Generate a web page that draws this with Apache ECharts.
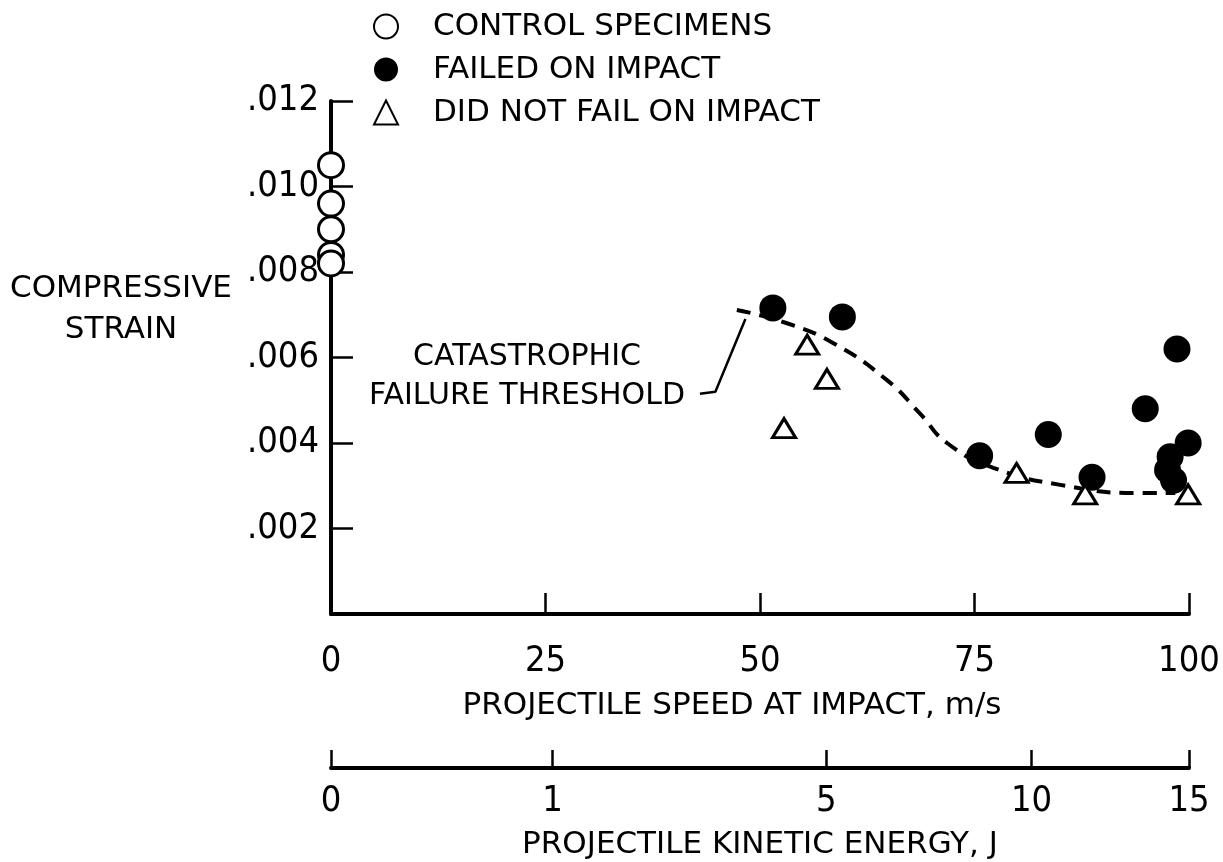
<!DOCTYPE html>
<html>
<head>
<meta charset="utf-8">
<script src="https://cdn.jsdelivr.net/npm/echarts@6/dist/echarts.min.js"></script>
<style>
  html, body { margin: 0; padding: 0; background: #ffffff; }
  #chart { width: 1223px; height: 862px; }
</style>
</head>
<body>
<div id="chart"></div>
<script>
// Axis ticks
const speedTicks = [0, 25, 50, 75, 100];          // m/s
const energyTicks = [0, 1, 5, 10, 15];            // J
const energyAtMaxSpeed = 15;                       // J at 100 m/s (KE grows with speed squared)
const strainMax = 0.012;
const strainStep = 0.002;

// Control specimens (no impact)
const controlSpeed  = [0, 0, 0, 0, 0];
const controlStrain = [0.0105, 0.0096, 0.0090, 0.0084, 0.0082];

// Specimens that failed on impact
const failedSpeed  = [51.5, 59.6, 75.6, 83.6, 88.7, 94.9, 98.6, 99.9, 97.8, 97.5, 98.2];
const failedStrain = [0.00716, 0.00695, 0.0037, 0.0042, 0.0032, 0.0048, 0.0062, 0.0040, 0.00368, 0.00337, 0.00313];

// Specimens that did not fail on impact
const survivedSpeed  = [55.5, 57.8, 52.8, 79.9, 87.9, 99.9];
const survivedStrain = [0.0063, 0.0055, 0.00435, 0.0033, 0.0028, 0.0028];

// Catastrophic failure threshold curve
const thresholdSpeed  = [47.3, 52.7, 58.5, 64.8, 68.6, 71.8, 77.2, 85.0, 94.3, 98.4];
const thresholdStrain = [0.00711, 0.00683, 0.00634, 0.00547, 0.00470, 0.00400, 0.00342, 0.00302, 0.00283, 0.00283];

// Leader line from the threshold label to the curve
const leaderSpeed  = [48.3, 44.8, 43.0];
const leaderStrain = [0.0069, 0.0052, 0.00515];

const zip = (xs, ys) => xs.map((x, i) => [x, ys[i]]);
const speedToEnergyPos = e => 100 * Math.sqrt(e / energyAtMaxSpeed);
const energyPositions = energyTicks.map(speedToEnergyPos);

const INK = '#000000';
const NUM_FONT = 'DejaVu Sans Condensed';
const TXT_FONT = 'DejaVu Sans';

const chart = echarts.init(document.getElementById('chart'), null, { renderer: 'canvas' });

chart.setOption({
  backgroundColor: '#ffffff',
  animation: false,
  legend: {
    orient: 'vertical',
    left: 368,
    top: 6,
    itemWidth: 24,
    itemHeight: 24,
    itemGap: 12,
    selectedMode: false,
    data: ['CONTROL SPECIMENS', 'FAILED ON IMPACT', 'DID NOT FAIL ON IMPACT'],
    textStyle: { color: INK, fontSize: 31, fontFamily: TXT_FONT, padding: [0, 0, 0, 30] }
  },
  grid: [
    { left: 331, top: 101, width: 858, height: 513, outerBoundsMode: 'none' },
    { left: 331, top: 707, width: 858, height: 61, outerBoundsMode: 'none' }
  ],
  xAxis: [
    {
      gridIndex: 0,
      type: 'value',
      min: speedTicks[0],
      max: speedTicks[speedTicks.length - 1],
      interval: 25,
      name: 'PROJECTILE SPEED AT IMPACT, m/s',
      nameLocation: 'middle',
      nameGap: 76,
      nameTextStyle: { color: INK, fontSize: 31, fontFamily: TXT_FONT, padding: [0, 56, 0, 0] },
      axisLine: { onZero: false, lineStyle: { color: INK, width: 4 } },
      axisTick: { inside: true, length: 21, lineStyle: { color: INK, width: 2.5 } },
      axisLabel: { color: INK, fontSize: 36, fontFamily: NUM_FONT, margin: 30 },
      splitLine: { show: false }
    },
    {
      gridIndex: 1,
      type: 'value',
      min: 0,
      max: 100,
      name: 'PROJECTILE KINETIC ENERGY, J',
      nameLocation: 'middle',
      nameGap: 61,
      nameTextStyle: { color: INK, fontSize: 31, fontFamily: TXT_FONT },
      axisLine: { onZero: false, lineStyle: { color: INK, width: 4 } },
      axisTick: { inside: true, length: 18, customValues: energyPositions, lineStyle: { color: INK, width: 2.5 } },
      axisLabel: {
        color: INK, fontSize: 36, fontFamily: NUM_FONT, margin: 16,
        customValues: energyPositions,
        formatter: v => String(Math.round(energyAtMaxSpeed * Math.pow(v / 100, 2)))
      },
      splitLine: { show: false }
    }
  ],
  yAxis: [
    {
      gridIndex: 0,
      type: 'value',
      min: 0,
      max: strainMax,
      interval: strainStep,
      axisLine: { show: true, onZero: false, lineStyle: { color: INK, width: 4 } },
      axisTick: { show: true, inside: true, length: 22, lineStyle: { color: INK, width: 2.5 } },
      axisLabel: {
        color: INK, fontSize: 36, fontFamily: NUM_FONT, margin: 12,
        formatter: v => (v === 0 ? '' : v.toFixed(3).replace(/^0/, ''))
      },
      splitLine: { show: false }
    },
    { gridIndex: 1, type: 'value', show: false, min: 0, max: 1 }
  ],
  graphic: [
    {
      type: 'text',
      style: {
        text: 'COMPRESSIVE\nSTRAIN', x: 121, y: 268, align: 'center', verticalAlign: 'top',
        fill: INK, fontSize: 31, fontFamily: TXT_FONT, lineHeight: 41
      }
    },
    {
      type: 'text',
      style: {
        text: 'CATASTROPHIC\nFAILURE THRESHOLD', x: 527, y: 338, align: 'center', verticalAlign: 'top',
        fill: INK, fontSize: 30, fontFamily: TXT_FONT, lineHeight: 39
      }
    }
  ],
  series: [
    {
      name: 'CATASTROPHIC FAILURE THRESHOLD',
      type: 'line',
      xAxisIndex: 0, yAxisIndex: 0,
      data: zip(thresholdSpeed, thresholdStrain),
      smooth: 0.5,
      showSymbol: false,
      symbol: 'none',
      lineStyle: { color: INK, width: 4, type: [14, 9] },
      z: 1
    },
    {
      name: 'leader',
      type: 'line',
      xAxisIndex: 0, yAxisIndex: 0,
      data: zip(leaderSpeed, leaderStrain),
      showSymbol: false,
      symbol: 'none',
      lineStyle: { color: INK, width: 2.5 },
      z: 1
    },
    {
      name: 'CONTROL SPECIMENS',
      type: 'scatter',
      xAxisIndex: 0, yAxisIndex: 0,
      clip: false,
      data: zip(controlSpeed, controlStrain),
      symbol: 'circle',
      symbolSize: 25,
      itemStyle: { color: '#ffffff', borderColor: INK, borderWidth: 3, opacity: 1 },
      z: 3
    },
    {
      name: 'FAILED ON IMPACT',
      type: 'scatter',
      xAxisIndex: 0, yAxisIndex: 0,
      clip: false,
      data: zip(failedSpeed, failedStrain),
      symbol: 'circle',
      symbolSize: 27,
      itemStyle: { color: INK, opacity: 1 },
      z: 3
    },
    {
      name: 'DID NOT FAIL ON IMPACT',
      type: 'scatter',
      xAxisIndex: 0, yAxisIndex: 0,
      clip: false,
      data: zip(survivedSpeed, survivedStrain),
      symbol: 'triangle',
      symbolSize: [23, 19],
      itemStyle: { color: '#ffffff', borderColor: INK, borderWidth: 3, opacity: 1 },
      z: 4
    }
  ]
});
</script>
</body>
</html>
